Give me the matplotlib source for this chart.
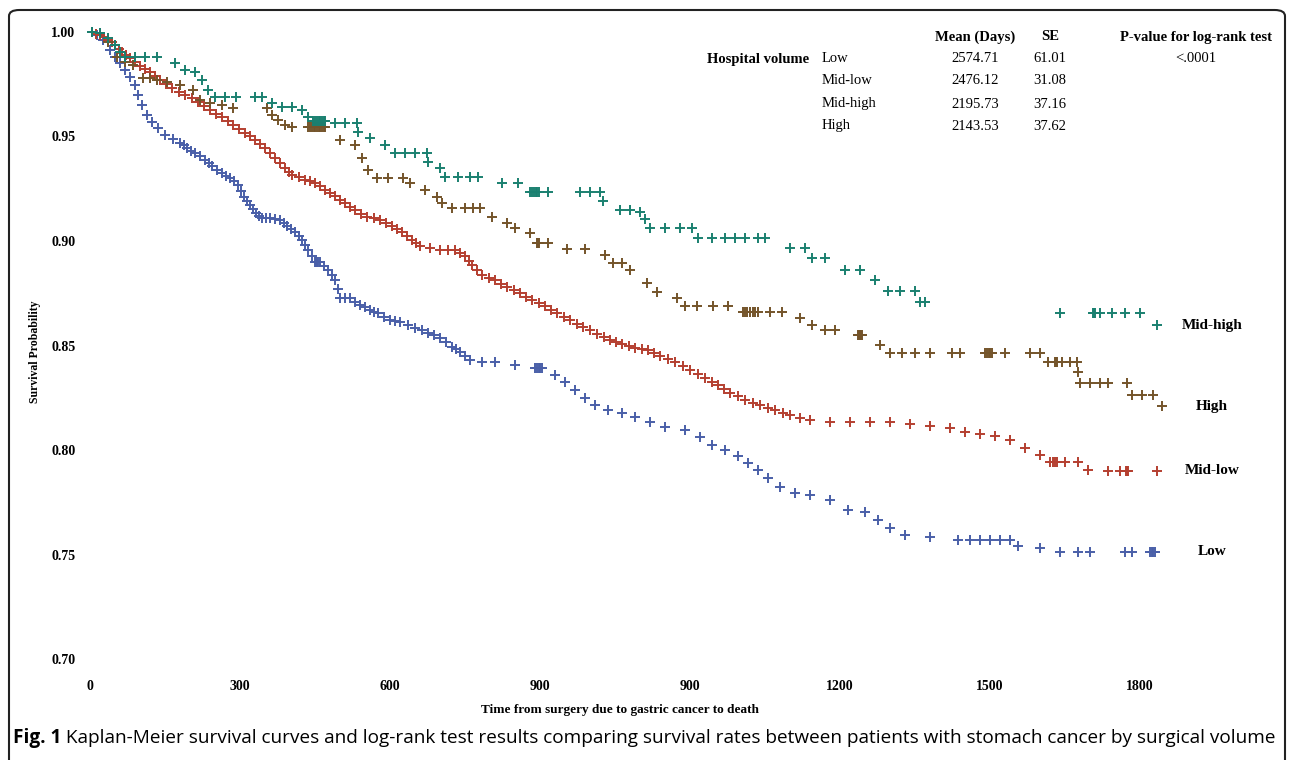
import matplotlib
matplotlib.use('Agg')
import matplotlib.pyplot as plt
from matplotlib.patches import FancyBboxPatch
from matplotlib import font_manager

# ---- data (censor marks of each Kaplan-Meier curve) ----
groups = ['Low', 'Mid-low', 'Mid-high', 'High']

low_days = [4, 14, 26, 40, 50, 60, 70, 80, 90, 96, 104, 114, 124, 136, 150, 180, 194, 210, 230, 244,
            264, 280, 296, 308, 320, 332, 344, 360, 380, 394, 410, 424, 436, 450, 452, 454, 456, 460,
            476, 490, 500, 510, 520, 540, 560, 576, 600, 620, 650, 676, 700, 724, 740, 760, 784, 810,
            850, 890, 894, 898, 900, 904, 930, 950, 970, 990, 1010, 1036, 1064, 1090, 1120, 1150,
            1190, 1220, 1244, 1270, 1296, 1316, 1336, 1356, 1380, 1410, 1440, 1480, 1516, 1550, 1576,
            1600, 1630, 1680, 1736, 1760, 1780, 1800, 1820, 1840, 1856, 1900, 1940, 1976, 2000, 2070,
            2084, 2120, 2124, 2126, 2130]
low_surv = [1.0, 0.9986, 0.9962, 0.9914, 0.988, 0.9852, 0.9818, 0.9785, 0.9746, 0.9699, 0.9651, 0.9603,
            0.9569, 0.9541, 0.9507, 0.9469, 0.9445, 0.9421, 0.9388, 0.9359, 0.9325, 0.9301, 0.9268,
            0.921, 0.9172, 0.9134, 0.911, 0.911, 0.91, 0.9072, 0.9043, 0.9005, 0.8957, 0.89, 0.89,
            0.89, 0.89, 0.89, 0.8861, 0.8813, 0.8727, 0.8727, 0.8727, 0.8694, 0.867, 0.8655, 0.8622,
            0.8612, 0.8584, 0.856, 0.8536, 0.8493, 0.8469, 0.8431, 0.8421, 0.8421, 0.8407, 0.8392,
            0.8392, 0.8392, 0.8392, 0.8392, 0.8359, 0.8325, 0.8287, 0.8249, 0.8215, 0.8191, 0.8177,
            0.8158, 0.8134, 0.811, 0.8096, 0.8062, 0.8024, 0.8, 0.7971, 0.7938, 0.7904, 0.7866,
            0.7823, 0.7794, 0.7785, 0.7761, 0.7713, 0.7703, 0.7665, 0.7627, 0.7593, 0.7584, 0.7569,
            0.7569, 0.7569, 0.7569, 0.7569, 0.7569, 0.754, 0.7531, 0.7512, 0.7512, 0.7512, 0.7512,
            0.7512, 0.7512, 0.7512, 0.7512, 0.7512]
# further marks in the dense early part of the Low curve
low_more_days = [165, 187, 202, 220, 237, 254, 272, 288, 302, 314, 326, 338, 352, 370, 387, 402, 417,
                 430, 443, 468, 483, 495, 530, 550, 568, 588, 610, 635, 663, 688, 712, 732, 750]
low_more_surv = [0.949, 0.9457, 0.9433, 0.9405, 0.9374, 0.9342, 0.9313, 0.9285, 0.924, 0.919, 0.9153,
                 0.9122, 0.911, 0.9105, 0.9086, 0.9058, 0.9024, 0.898, 0.893, 0.888, 0.8837, 0.877,
                 0.871, 0.8682, 0.8662, 0.8638, 0.8617, 0.8598, 0.8572, 0.8548, 0.8515, 0.8481, 0.845]

midlow_days = [4, 20, 36, 50, 64, 80, 100, 120, 140, 164, 190, 216, 240, 264, 286, 310, 330, 350, 370,
               390, 404, 430, 450, 470, 490, 510, 530, 554, 580, 604, 624, 644, 660, 700, 730, 750, 764,
               784, 810, 834, 860, 884, 910, 934, 960, 986, 1014, 1040, 1064, 1090, 1116, 1140, 1170,
               1200, 1230, 1256, 1280, 1310, 1340, 1370, 1400, 1440, 1480, 1520, 1560, 1600, 1640,
               1680, 1720, 1750, 1780, 1810, 1840, 1870, 1900, 1920, 1926, 1930, 1934, 1950, 1976,
               1996, 2036, 2060, 2072, 2074, 2076, 2134]
midlow_surv = [1.0, 0.9986, 0.9962, 0.9938, 0.9904, 0.9876, 0.9837, 0.9809, 0.977, 0.9732, 0.9699,
               0.9665, 0.9627, 0.9593, 0.9555, 0.9517, 0.9483, 0.9445, 0.9397, 0.9349, 0.9316, 0.9292,
               0.9278, 0.9244, 0.9215, 0.9182, 0.9148, 0.9115, 0.91, 0.9072, 0.9043, 0.9005, 0.8976,
               0.8957, 0.8957, 0.8928, 0.8885, 0.8837, 0.8813, 0.878, 0.8751, 0.8718, 0.8689, 0.8655,
               0.8622, 0.8589, 0.8555, 0.8526, 0.8507, 0.8488, 0.8478, 0.845, 0.8421, 0.8383, 0.8344,
               0.8311, 0.8273, 0.8239, 0.8215, 0.8191, 0.8167, 0.8143, 0.8134, 0.8134, 0.8134, 0.8134,
               0.8124, 0.8115, 0.8105, 0.8086, 0.8077, 0.8067, 0.8048, 0.801, 0.7976, 0.7943, 0.7943,
               0.7943, 0.7943, 0.7943, 0.7943, 0.7904, 0.79, 0.79, 0.79, 0.79, 0.79, 0.79]
# further marks where the Mid-low curve is a near-continuous chain
midlow_more_days = [12, 28, 43, 57, 72, 90, 110, 130, 152, 177, 203, 228, 252, 275, 298, 320, 340, 360,
                    380, 397, 417, 440, 460, 480, 500, 520, 542, 567, 592, 614, 634, 652, 680, 715, 740,
                    757, 774, 797, 822, 847, 872, 897, 922, 947, 973, 1000, 1027, 1052, 1077, 1103, 1128,
                    1155, 1185, 1215, 1243, 1268, 1295, 1325, 1355, 1385, 1420]
midlow_more_surv = [0.999, 0.9975, 0.995, 0.992, 0.989, 0.9855, 0.9822, 0.979, 0.975, 0.9715, 0.9682,
                    0.9645, 0.961, 0.9574, 0.9536, 0.95, 0.9464, 0.9421, 0.9373, 0.9332, 0.9304, 0.9285,
                    0.9261, 0.923, 0.9198, 0.9165, 0.9131, 0.9108, 0.9086, 0.9057, 0.9024, 0.899, 0.8966,
                    0.8957, 0.8942, 0.8906, 0.8861, 0.8825, 0.8796, 0.8765, 0.8734, 0.8703, 0.8672,
                    0.8638, 0.8605, 0.8572, 0.854, 0.8516, 0.8497, 0.8483, 0.8464, 0.8435, 0.8402,
                    0.8363, 0.8327, 0.8292, 0.8256, 0.8227, 0.8203, 0.8179, 0.8155]

midhigh_days = [4, 20, 36, 50, 60, 70, 90, 110, 134, 170, 190, 210, 224, 236, 250, 270, 292, 330, 344,
                364, 384, 404, 424, 436, 446, 450, 454, 458, 460, 464, 468, 470, 490, 510, 534, 536,
                560, 590, 610, 630, 650, 674, 676, 700, 710, 736, 760, 776, 824, 856, 880, 884, 888,
                892, 894, 898, 916, 980, 1000, 1020, 1026, 1060, 1080, 1100, 1110, 1120, 1150, 1180,
                1204, 1216, 1244, 1270, 1290, 1310, 1336, 1350, 1400, 1430, 1444, 1470, 1510, 1540,
                1570, 1596, 1620, 1650, 1660, 1670, 1940, 2006, 2008, 2010, 2020, 2044, 2070, 2100,
                2134]
midhigh_surv = [1.0, 0.9995, 0.9971, 0.9938, 0.9904, 0.988, 0.988, 0.988, 0.988, 0.9852, 0.9818,
                0.9809, 0.977, 0.9722, 0.9689, 0.9689, 0.9689, 0.9689, 0.9689, 0.966, 0.9641, 0.9641,
                0.9627, 0.9593, 0.9574, 0.9574, 0.9574, 0.9574, 0.9574, 0.9574, 0.9574, 0.9574, 0.9565,
                0.9565, 0.9565, 0.9522, 0.9493, 0.9459, 0.9421, 0.9421, 0.9421, 0.9421, 0.9378, 0.9349,
                0.9306, 0.9306, 0.9306, 0.9306, 0.9278, 0.9278, 0.9234, 0.9234, 0.9234, 0.9234, 0.9234,
                0.9234, 0.9234, 0.9234, 0.9234, 0.9234, 0.9191, 0.9148, 0.9148, 0.9139, 0.9105, 0.9062,
                0.9062, 0.9062, 0.9062, 0.9014, 0.9014, 0.9014, 0.9014, 0.9014, 0.9014, 0.9014, 0.8966,
                0.8966, 0.8919, 0.8919, 0.8861, 0.8861, 0.8813, 0.8761, 0.8761, 0.8761, 0.8708, 0.8708,
                0.8655, 0.8655, 0.8655, 0.8655, 0.8655, 0.8655, 0.8655, 0.8655, 0.8598]

high_days = [4, 20, 36, 54, 70, 86, 106, 120, 134, 154, 180, 206, 220, 240, 264, 286, 354, 364, 376,
             390, 404, 436, 440, 444, 448, 450, 454, 458, 460, 464, 468, 470, 500, 530, 544, 556, 574,
             596, 626, 640, 670, 694, 704, 724, 750, 766, 780, 804, 834, 850, 880, 894, 896, 898, 916,
             954, 990, 1030, 1046, 1064, 1080, 1114, 1134, 1174, 1190, 1214, 1246, 1276, 1306, 1310,
             1314, 1320, 1326, 1330, 1336, 1360, 1384, 1420, 1444, 1470, 1490, 1536, 1538, 1540, 1542,
             1544, 1580, 1600, 1624, 1650, 1680, 1724, 1740, 1790, 1794, 1798, 1800, 1804, 1830, 1880,
             1900, 1916, 1930, 1932, 1934, 1944, 1960, 1974, 1976, 1980, 2000, 2020, 2036, 2074, 2084,
             2104, 2126, 2144]
high_surv = [1.0, 0.9995, 0.9952, 0.988, 0.9856, 0.9842, 0.978, 0.978, 0.977, 0.9761, 0.9746, 0.9722,
             0.9675, 0.966, 0.9651, 0.9636, 0.9636, 0.9603, 0.9579, 0.9555, 0.9545, 0.9545, 0.9545,
             0.9545, 0.9545, 0.9545, 0.9545, 0.9545, 0.9545, 0.9545, 0.9545, 0.9545, 0.9483, 0.9459,
             0.9397, 0.934, 0.9301, 0.9301, 0.9301, 0.9278, 0.9244, 0.921, 0.9182, 0.9158, 0.9158,
             0.9158, 0.9158, 0.9115, 0.9086, 0.9062, 0.9038, 0.899, 0.899, 0.899, 0.899, 0.8962,
             0.8962, 0.8933, 0.8895, 0.8895, 0.8861, 0.8799, 0.8756, 0.8727, 0.8689, 0.8689, 0.8689,
             0.8689, 0.866, 0.866, 0.866, 0.866, 0.866, 0.866, 0.866, 0.866, 0.866, 0.8632, 0.8598,
             0.8574, 0.8574, 0.855, 0.855, 0.855, 0.855, 0.855, 0.8502, 0.8464, 0.8464, 0.8464, 0.8464,
             0.8464, 0.8464, 0.8464, 0.8464, 0.8464, 0.8464, 0.8464, 0.8464, 0.8464, 0.8464, 0.8421,
             0.8421, 0.8421, 0.8421, 0.8421, 0.8421, 0.8421, 0.8373, 0.8321, 0.8321, 0.8321, 0.8321,
             0.8321, 0.8263, 0.8263, 0.8263, 0.821]

x_ticks = [0, 300, 600, 900, 1200, 1500, 1800, 2100]
x_ticklabels = ['0', '300', '600', '900', '900', '1200', '1500', '1800']
y_ticks = [0.70, 0.75, 0.80, 0.85, 0.90, 0.95, 1.00]

table_mean = ['2574.71', '2476.12', '2195.73', '2143.53']
table_se = ['61.01', '31.08', '37.16', '37.62']
p_value = '<.0001'

colors = {'Low': '#4a5fa8', 'Mid-low': '#b43f30', 'Mid-high': '#1a8070', 'High': '#74542a'}
series = {'Low': [(low_days, low_surv), (low_more_days, low_more_surv)],
          'Mid-low': [(midlow_days, midlow_surv), (midlow_more_days, midlow_more_surv)],
          'Mid-high': [(midhigh_days, midhigh_surv)],
          'High': [(high_days, high_surv)]}

serif = 'Liberation Serif'
W, H = 1292, 760
fig = plt.figure(figsize=(W / 100, H / 100), dpi=100)

# axes placed in pixel terms (left 85, right 1250, top 20, bottom 670)
ax = fig.add_axes([85 / W, (H - 670) / H, (1250 - 85) / W, (670 - 20) / H])
ax.set_xlim(-10, 2320)
ax.set_ylim(0.69474, 1.00574)
for s in ax.spines.values():
    s.set_visible(False)
ax.set_xticks(x_ticks)
ax.set_xticklabels(x_ticklabels)
ax.set_yticks(y_ticks)
ax.set_yticklabels(['%.2f' % v for v in y_ticks])
ax.tick_params(length=0, labelsize=10, pad=7)
for lbl in ax.get_xticklabels() + ax.get_yticklabels():
    lbl.set_fontfamily(serif)
    lbl.set_fontweight('bold')

# curves are shown only by their censor marks
for name in ['Low', 'Mid-low', 'High', 'Mid-high']:
    for d, s in series[name]:
        ax.plot(d, s, ls='none', marker='+', ms=7.5, mew=1.4, color=colors[name])
    last = series[name][0][1][-1]
    ax.text(2244, last, name, ha='center', va='center', family=serif,
            fontweight='bold', fontsize=11)

fig.text(35 / W, 1 - 352 / H, 'Survival Probability', rotation=90, ha='center', va='center',
         family=serif, fontweight='bold', fontsize=8.5)
fig.text(620 / W, 1 - 710 / H, 'Time from surgery due to gastric cancer to death', ha='center',
         va='center', family=serif, fontweight='bold', fontsize=9.5)

# summary table at top right
def ftxt(x, y, t, bold=False, ha='center'):
    fig.text(x / W, 1 - y / H, t, ha=ha, va='center', family=serif,
             fontweight='bold' if bold else 'normal', fontsize=10.5)

ftxt(975, 37, 'Mean (Days)', True)
ftxt(1050, 37, 'SE', True)
ftxt(1196, 37, 'P-value for log-rank test', True)
ftxt(758, 59, 'Hospital volume', True)
row_y = [59, 81, 104, 126]
for g, m, se, y in zip(groups, table_mean, table_se, row_y):
    ftxt(822, y, g, ha='left')
    ftxt(975, y, m)
    ftxt(1050, y, se)
ftxt(1196, row_y[0], p_value)

# rounded frame
frame = FancyBboxPatch((9 / W, -0.05), (1285 - 9) / W, (H - 10) / H + 0.05,
                       boxstyle='round,pad=0,rounding_size=0.008', transform=fig.transFigure,
                       fill=False, ec='#222222', lw=1.5, clip_on=False)
fig.patches.append(frame)

# caption: bold "Fig. 1" followed by regular text, fitted to the frame width
names = {f.name for f in font_manager.fontManager.ttflist}
cap_font = 'Liberation Sans Narrow' if 'Liberation Sans Narrow' in names else 'Open Sans'
cap_rest = (' Kaplan-Meier survival curves and log-rank test results comparing survival rates '
            'between patients with stomach cancer by surgical volume')
r = fig.canvas.get_renderer()
size = 14
t1 = fig.text(13 / W, 1 - 738 / H, 'Fig. 1', family=cap_font, fontweight='bold', fontsize=size,
              va='center', ha='left')
t2 = fig.text(0, 1 - 738 / H, cap_rest, family=cap_font, fontsize=size, va='center', ha='left')
w = t1.get_window_extent(r).width + t2.get_window_extent(r).width
size = size * (1282 - 13) / w
t1.set_fontsize(size)
t2.set_fontsize(size)
t2.set_x((13 + t1.get_window_extent(r).width) / W)

fig.savefig('out.png', dpi=100)
